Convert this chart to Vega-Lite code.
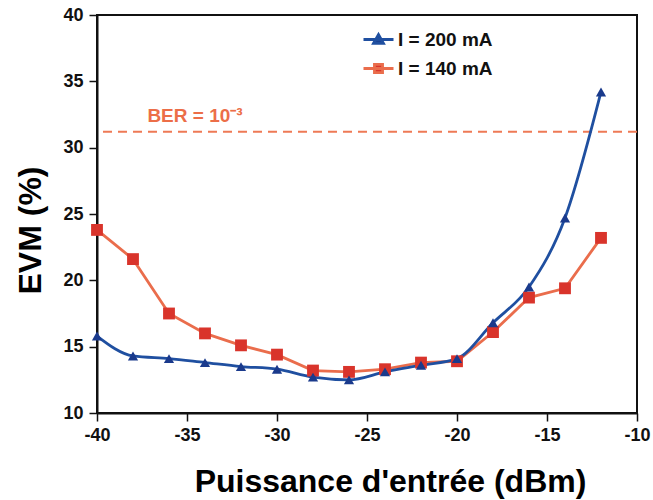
{
  "$schema": "https://vega.github.io/schema/vega-lite/v6.json",
  "width": 540,
  "height": 398,
  "autosize": "none",
  "padding": {"left": 97, "top": 15, "right": 16, "bottom": 87},
  "config": {
    "font": "Liberation Sans",
    "view": {"stroke": "#111", "strokeWidth": 2},
    "axis": {
      "grid": false,
      "domainColor": "#111",
      "domainWidth": 2,
      "tickColor": "#111",
      "tickWidth": 1.5,
      "tickSize": 8,
      "labelFlush": false,
      "labelOverlap": false,
      "labelFont": "Liberation Sans",
      "labelFontSize": 18,
      "labelFontWeight": "bold",
      "labelColor": "#111",
      "titleFont": "Liberation Sans",
      "titleFontSize": 32,
      "titleFontWeight": "bold",
      "titleColor": "#000"
    }
  },
  "datasets": {
    "evm": [
      {"p": -40, "evm": 15.8, "s": "I = 200 mA"},
      {"p": -38, "evm": 14.3, "s": "I = 200 mA"},
      {"p": -36, "evm": 14.1, "s": "I = 200 mA"},
      {"p": -34, "evm": 13.8, "s": "I = 200 mA"},
      {"p": -32, "evm": 13.5, "s": "I = 200 mA"},
      {"p": -30, "evm": 13.3, "s": "I = 200 mA"},
      {"p": -28, "evm": 12.7, "s": "I = 200 mA"},
      {"p": -26, "evm": 12.5, "s": "I = 200 mA"},
      {"p": -24, "evm": 13.1, "s": "I = 200 mA"},
      {"p": -22, "evm": 13.6, "s": "I = 200 mA"},
      {"p": -20, "evm": 14.1, "s": "I = 200 mA"},
      {"p": -18, "evm": 16.8, "s": "I = 200 mA"},
      {"p": -16, "evm": 19.5, "s": "I = 200 mA"},
      {"p": -14, "evm": 24.7, "s": "I = 200 mA"},
      {"p": -12, "evm": 34.2, "s": "I = 200 mA"},
      {"p": -40, "evm": 23.8, "s": "I = 140 mA"},
      {"p": -38, "evm": 21.6, "s": "I = 140 mA"},
      {"p": -36, "evm": 17.5, "s": "I = 140 mA"},
      {"p": -34, "evm": 16.0, "s": "I = 140 mA"},
      {"p": -32, "evm": 15.1, "s": "I = 140 mA"},
      {"p": -30, "evm": 14.4, "s": "I = 140 mA"},
      {"p": -28, "evm": 13.2, "s": "I = 140 mA"},
      {"p": -26, "evm": 13.1, "s": "I = 140 mA"},
      {"p": -24, "evm": 13.3, "s": "I = 140 mA"},
      {"p": -22, "evm": 13.8, "s": "I = 140 mA"},
      {"p": -20, "evm": 13.9, "s": "I = 140 mA"},
      {"p": -18, "evm": 16.1, "s": "I = 140 mA"},
      {"p": -16, "evm": 18.7, "s": "I = 140 mA"},
      {"p": -14, "evm": 19.4, "s": "I = 140 mA"},
      {"p": -12, "evm": 23.2, "s": "I = 140 mA"}
    ],
    "ber": [{"p": -37.2, "evm": 32.4, "label": "BER = 10⁻³", "level": 31.2}]
  },
  "data": {"name": "evm"},
  "encoding": {
    "x": {
      "field": "p", "type": "quantitative",
      "scale": {"domain": [-40, -10], "nice": false},
      "axis": {
        "values": [-40, -35, -30, -25, -20, -15, -10],
        "labelExpr": "datum.value < 0 ? '-' + abs(datum.value) : '' + datum.value",
        "labelPadding": 5,
        "title": "Puissance d'entrée (dBm)",
        "titleX": 293, "titleY": 68, "titleAlign": "center", "titleBaseline": "middle"
      }
    },
    "y": {
      "field": "evm", "type": "quantitative",
      "scale": {"domain": [10, 40], "nice": false, "zero": false},
      "axis": {
        "values": [10, 15, 20, 25, 30, 35, 40],
        "labelPadding": 6,
        "title": "EVM (%)",
        "titleX": -67, "titleY": 215, "titleAngle": -90, "titleAlign": "center", "titleBaseline": "middle"
      }
    }
  },
  "layer": [
    {
      "data": {"name": "ber"},
      "mark": {"type": "rule", "color": "#ee7a55", "strokeWidth": 2, "strokeDash": [9, 6]},
      "encoding": {"y": {"field": "level", "type": "quantitative"}, "x": null}
    },
    {
      "data": {"name": "ber"},
      "mark": {"type": "text", "align": "left", "baseline": "middle", "color": "#ec6e48", "fontSize": 19, "fontWeight": "bold", "font": "Liberation Sans"},
      "encoding": {"text": {"field": "label"}}
    },
    {
      "transform": [{"filter": "datum.s === 'I = 140 mA'"}],
      "mark": {"type": "line", "strokeWidth": 2.8, "interpolate": "linear"},
      "encoding": {
        "color": {
          "field": "s", "type": "nominal",
          "scale": {"domain": ["I = 200 mA", "I = 140 mA"], "range": ["#1f4fa0", "#ea6d4c"]},
          "legend": {
            "orient": "none", "legendX": 265, "legendY": 8, "title": null,
            "labelFont": "Liberation Sans", "labelFontSize": 19, "labelFontWeight": "bold", "labelColor": "#111",
            "symbolSize": 900, "rowPadding": 2, "labelOffset": 3,
            "encode": {
              "symbols": {
                "update": {
                  "shape": {"signal": "datum.value === 'I = 200 mA' ? 'M-1,0H1M-0.33,0.25L0,-0.33L0.33,0.25Z' : 'M-1,0H1M-0.27,-0.27H0.27V0.27H-0.27Z'"},
                  "fill": {"signal": "datum.value === 'I = 200 mA' ? '#1a3a8c' : '#d9342b'"},
                  "stroke": {"signal": "datum.value === 'I = 200 mA' ? '#1f4fa0' : '#ea6d4c'"},
                  "strokeWidth": {"value": 2.8},
                  "opacity": {"value": 1},
                  "fillOpacity": {"value": 1}
                }
              }
            }
          }
        }
      }
    },
    {
      "transform": [{"filter": "datum.s === 'I = 200 mA'"}],
      "mark": {"type": "line", "strokeWidth": 2.8, "interpolate": "monotone"},
      "encoding": {"color": {"field": "s", "type": "nominal"}}
    },
    {
      "transform": [{"filter": "datum.s === 'I = 140 mA'"}],
      "mark": {"type": "point", "shape": "square", "filled": true, "size": 140, "color": "#d9342b", "opacity": 1}
    },
    {
      "transform": [{"filter": "datum.s === 'I = 200 mA'"}],
      "mark": {"type": "point", "shape": "triangle-up", "filled": true, "size": 105, "color": "#1a3a8c", "opacity": 1}
    }
  ]
}
